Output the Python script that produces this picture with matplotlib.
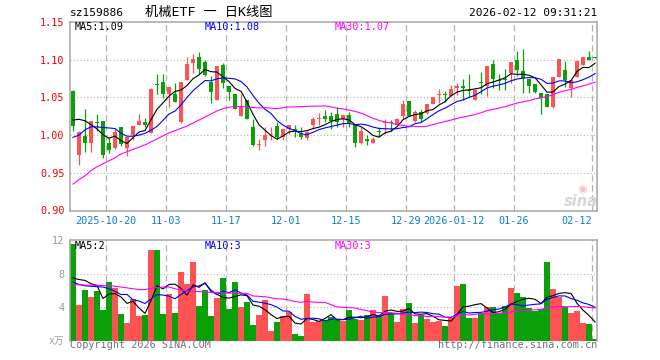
import matplotlib
matplotlib.use("Agg")
import matplotlib.pyplot as plt
import numpy as np
import pandas as pd

# ---------------- data ----------------
holidays = ["2026-01-01", "2026-01-02"]
dates = [d.strftime("%Y-%m-%d") for d in
         pd.bdate_range("2025-10-10", "2026-02-12", freq="C", holidays=holidays)]

opens = [1.059, 0.973, 0.999, 0.989, 1.018, 1.0187, 0.990, 0.983, 1.0104, 0.983,
         1.0004, 1.0135, 1.0178, 1.0034, 1.068, 1.071, 1.055, 1.054, 1.0178, 1.0733,
         1.096, 1.104, 1.097, 1.070, 1.047, 1.093, 1.065, 1.054, 1.0253, 1.047,
         1.0104, 0.9865, 0.993, 0.9996, 1.012, 0.997, 1.0078, 1.0078, 1.0017, 0.996,
         1.0135, 1.0214, 1.025, 1.025, 1.028, 1.022, 1.0266, 1.0135, 0.990, 0.9952,
         0.990, 1.0056, 1.0166, 1.018, 1.0135, 1.0253, 1.045, 1.019, 1.031, 1.0296,
         1.041, 1.053, 1.055, 1.0515, 1.063, 1.0646, 1.0594, 1.046, 1.0703, 1.065,
         1.0943, 1.0729, 1.0747, 1.0825, 1.100, 1.0856, 1.0747, 1.0681, 1.0563, 1.0541,
         1.0375, 1.0777, 1.0869, 1.0629, 1.0769, 1.0934, 1.1031, 1.1031]
highs = [1.060, 1.006, 1.034, 1.019, 1.028, 1.019, 0.998, 1.009, 1.011, 0.998,
         1.013, 1.028, 1.023, 1.0624, 1.081, 1.081, 1.0635, 1.069, 1.071, 1.103,
         1.107, 1.110, 1.100, 1.079, 1.092, 1.096, 1.065, 1.054, 1.054, 1.047,
         1.0209, 0.9947, 1.0104, 1.0104, 1.018, 1.008, 1.0135, 1.0135, 1.0104, 1.005,
         1.0244, 1.0297, 1.033, 1.030, 1.0375, 1.027, 1.031, 1.0135, 1.0104, 1.0004,
         0.997, 1.0104, 1.0209, 1.020, 1.023, 1.046, 1.045, 1.033, 1.035, 1.041,
         1.051, 1.0607, 1.058, 1.0668, 1.069, 1.0747, 1.0812, 1.0607, 1.0834, 1.092,
         1.100, 1.081, 1.0878, 1.097, 1.1118, 1.114, 1.075, 1.0681, 1.0563, 1.054,
         1.077, 1.1013, 1.0987, 1.0725, 1.099, 1.103, 1.1109, 1.1031]
lows = [1.005, 0.960, 0.978, 0.978, 1.006, 0.970, 0.976, 0.981, 0.986, 0.972,
        0.994, 1.013, 1.011, 1.0025, 1.054, 1.049, 1.0375, 1.044, 1.0166, 1.073,
        1.083, 1.081, 1.079, 1.043, 1.047, 1.063, 1.047, 1.034, 1.025, 1.021,
        0.985, 0.9798, 0.986, 0.994, 0.9947, 0.994, 1.002, 0.998, 0.9947, 0.9938,
        1.0078, 1.0135, 1.017, 1.008, 1.011, 1.011, 1.011, 0.984, 0.988, 0.9873,
        0.989, 0.998, 1.002, 1.006, 1.013, 1.021, 1.025, 1.018, 1.018, 1.028,
        1.041, 1.042, 1.044, 1.0515, 1.053, 1.046, 1.0506, 1.046, 1.055, 1.052,
        1.0624, 1.0594, 1.0594, 1.069, 1.0782, 1.0563, 1.0563, 1.0563, 1.0275, 1.037,
        1.0362, 1.0777, 1.0638, 1.0506, 1.0769, 1.0934, 1.10, 1.1022]
closes = [1.012, 1.004, 0.990, 1.0187, 1.016, 0.974, 0.9807, 1.004, 0.9886, 0.997,
          1.0122, 1.0187, 1.0135, 1.0607, 1.066, 1.055, 1.0633, 1.044, 1.071, 1.0948,
          1.101, 1.088, 1.080, 1.057, 1.092, 1.069, 1.057, 1.035, 1.0375, 1.0214,
          0.9873, 0.987, 0.9995, 1.0017, 0.998, 1.008, 1.0135, 1.0056, 0.998, 1.0047,
          1.0214, 1.023, 1.0218, 1.019, 1.018, 1.0266, 1.0157, 0.990, 1.0056, 0.9917,
          0.9952, 1.0043, 1.018, 1.0166, 1.0214, 1.0419, 1.0253, 1.031, 1.022, 1.041,
          1.0506, 1.055, 1.053, 1.0616, 1.0646, 1.0624, 1.0585, 1.0594, 1.069, 1.0913,
          1.0738, 1.072, 1.0734, 1.0965, 1.0869, 1.0751, 1.0651, 1.0567, 1.0497, 1.0375,
          1.0769, 1.1013, 1.0734, 1.0725, 1.0987, 1.1031, 1.100, 1.1022]
volumes = [11.56, 4.28, 6.08, 5.2, 5.88, 3.68, 7.04, 6.28, 3.16, 2.08,
           4.96, 2.96, 3.08, 10.84, 10.84, 3.2, 5.6, 3.28, 8.24, 6.8,
           9.4, 4.12, 6.08, 2.96, 5.12, 7.48, 3.76, 7.0, 4.0, 4.6,
           1.88, 3.08, 4.84, 1.12, 2.24, 2.9, 3.45, 0.76, 0.52, 5.6,
           2.25, 2.3, 2.5, 2.85, 2.48, 2.36, 3.68, 2.6, 2.48, 3.08,
           3.68, 2.88, 5.36, 3.28, 2.24, 3.8, 4.48, 2.12, 3.08, 2.6,
           2.24, 2.36, 1.76, 2.68, 6.56, 6.8, 2.72, 2.72, 3.28, 3.96,
           4.0, 3.28, 4.16, 6.32, 5.68, 5.24, 3.88, 3.56, 3.8, 9.4,
           6.2, 5.24, 4.0, 3.28, 3.56, 2.12, 2.0, 0.2]

# moving-average values at the left edge (window reaches before the shown days)
ma5_head = [1.020, 1.021, 1.019, 1.014]
ma10_head = [0.997, 1.000, 1.007, 1.011, 1.011, 1.010, 1.0095, 1.0087, 1.0025]
ma30_head = [0.935, 0.941, 0.946, 0.953, 0.958, 0.962, 0.966, 0.970, 0.975, 0.978,
             0.981, 0.984, 0.987, 0.991, 0.995, 0.999, 1.003, 1.006, 1.009, 1.012,
             1.016, 1.020, 1.024, 1.028, 1.032, 1.035, 1.037, 1.038, 1.038]
vma5_head = [7.5, 7.3, 7.2, 6.8]
vma10_head = [7.0, 6.7, 6.55, 6.5, 6.45, 6.4, 6.2, 5.9, 5.5]
vma30_head = [6.7, 6.68, 6.65, 6.62, 6.6, 6.58, 6.56, 6.5, 6.4, 6.3,
              6.2, 6.1, 6.1, 6.25, 6.35, 6.4, 6.4, 6.2, 6.05, 5.95,
              5.9, 5.85, 5.8, 5.77, 5.75, 5.72, 5.68, 5.65, 5.65]

tick_dates = ["2025-10-20", "2025-11-03", "2025-11-17", "2025-12-01", "2025-12-15",
              "2025-12-29", "2026-01-12", "2026-01-26", "2026-02-12"]
tick_labels = ["2025-10-20", "11-03", "11-17", "12-01", "12-15",
               "12-29", "2026-01-12", "01-26", "02-12"]
price_ticks = [0.90, 0.95, 1.00, 1.05, 1.10, 1.15]
vol_ticks = [4, 8, 12]

code = "sz159886"
title = "机械ETF 一 日K线图"
stamp = "2026-02-12 09:31:21"
price_legend = ["MA5:1.09", "MA10:1.08", "MA30:1.07"]
vol_legend = ["MA5:2", "MA10:3", "MA30:3"]
unit_label = "x万"

# ---------------- helpers ----------------
def rolling(vals, n, head):
    s = pd.Series(vals, dtype=float).rolling(n).mean().to_numpy()
    s[:len(head)] = head
    return s

W, H = 660, 360
def fx(px):
    return px / W
def fy(py):
    return 1 - py / H

RED = "#ff5252"
GREEN = "#0aa00a"
GRID = "#b4b4b4"
SPINE = "#a6a6a6"
MONO = "DejaVu Sans Mono"
FS = 7.3

x = np.arange(len(closes))
o = np.array(opens); c = np.array(closes); h = np.array(highs); l = np.array(lows)
up = c >= o
cols = np.where(up, RED, GREEN)

fig = plt.figure(figsize=(6.6, 3.6), dpi=100)
fig.patch.set_facecolor("white")
ax1 = fig.add_axes([fx(70), fy(210.5), fx(527), 188.5 / H])
ax2 = fig.add_axes([fx(70), fy(340.5), fx(527), 100.2 / H])

xlim = (-0.5, 87.33)
tick_pos = [dates.index(d) - 0.5 for d in tick_dates]

for ax in (ax1, ax2):
    ax.set_xlim(*xlim)
    for p in tick_pos:
        ax.axvline(p, color=GRID, lw=0.9, ls=(0, (5, 3)), zorder=0)
    for s in ax.spines.values():
        s.set_color(SPINE)
        s.set_linewidth(1.1)
    ax.tick_params(length=0)

# ---- price panel ----
ax1.set_ylim(0.90, 1.15)
for v in price_ticks[1:-1]:
    ax1.axhline(v, color=GRID, lw=0.8, ls=(0, (1, 2)), zorder=0)
ax1.vlines(x, l, h, colors=cols, lw=0.9, zorder=2)
body_bottom = np.minimum(o, c)
body_h = np.maximum(np.abs(c - o), 0.0013)
ax1.bar(x, body_h, bottom=body_bottom, width=0.8, color=cols, linewidth=0, zorder=3)

ax1.plot(x, rolling(closes, 5, ma5_head), color="black", lw=0.8, zorder=4)
ax1.plot(x, rolling(closes, 10, ma10_head), color="#0000ff", lw=0.8, zorder=4)
ax1.plot(x, rolling(closes, 30, ma30_head), color="#ff00ff", lw=0.8, zorder=4)

ax1.set_yticks(price_ticks)
ax1.set_yticklabels([f"{v:.2f}" for v in price_ticks], color="#f00000",
                    fontfamily=MONO, fontsize=FS)
ax1.tick_params(axis="y", pad=4)
ax1.set_xticks(tick_pos)
ax1.set_xticklabels(tick_labels, color="#0a7ed0", fontfamily=MONO, fontsize=FS)
ax1.tick_params(axis="x", pad=4)
ax1.get_xticklabels()[-1].set_ha("right")

# ---- volume panel ----
ax2.set_ylim(0, 12)
for v in vol_ticks[:-1]:
    ax2.axhline(v, color=GRID, lw=0.8, ls=(0, (1, 2)), zorder=0)
ax2.bar(x, volumes, width=0.85, color=cols, linewidth=0, zorder=2)
ax2.plot(x, rolling(volumes, 5, vma5_head), color="black", lw=0.8, zorder=4)
ax2.plot(x, rolling(volumes, 10, vma10_head), color="#0000ff", lw=0.8, zorder=4)
ax2.plot(x, rolling(volumes, 30, vma30_head), color="#ff00ff", lw=0.8, zorder=4)
ax2.spines["bottom"].set_visible(False)
ax2.set_yticks(vol_ticks)
ax2.set_yticklabels([str(v) for v in vol_ticks], color="#9a9a9a",
                    fontfamily=MONO, fontsize=FS)
ax2.tick_params(axis="y", pad=4)
ax2.set_xticks([])

# ---- texts ----
fig.text(fx(70), fy(13), code, fontfamily=MONO, fontsize=8, va="center", ha="left")
fig.text(fx(209), fy(12.5), title, fontfamily=[MONO, "Noto Sans CJK SC"],
         fontsize=9.5, va="center", ha="center")
fig.text(fx(597), fy(13), stamp, fontfamily=MONO, fontsize=8, va="center", ha="right")

leg_cols = ["black", "#0000ff", "#ff00ff"]
leg_x = [75, 205, 335]
for t, cc, px in zip(price_legend, leg_cols, leg_x):
    fig.text(fx(px), fy(26.5), t, color=cc, fontfamily=MONO, fontsize=FS, va="center")
for t, cc, px in zip(vol_legend, leg_cols, leg_x):
    fig.text(fx(px), fy(246), t, color=cc, fontfamily=MONO, fontsize=FS, va="center")

fig.text(fx(64), fy(341), unit_label, color="#a0a0a0",
         fontfamily=[MONO, "Noto Sans CJK SC"], fontsize=7, va="center", ha="right")
fig.text(fx(70), fy(345.5), "Copyright 2026 SINA.COM", color="#707070",
         fontfamily=MONO, fontsize=FS, va="center", ha="left")
fig.text(fx(597), fy(345.5), "http://finance.sina.com.cn", color="#707070",
         fontfamily=MONO, fontsize=FS, va="center", ha="right")

# faint sina logo
fig.text(fx(581), fy(201), "sina", color="#d6d6d6", fontsize=10.5, fontweight="bold",
         fontstyle="italic", ha="center", va="center", family="DejaVu Sans")
fig.text(fx(582), fy(189), "◉", color="#f3c4c4", fontsize=8, ha="center", va="center",
         family="DejaVu Sans")

fig.savefig("out.png", dpi=100, facecolor="white")
